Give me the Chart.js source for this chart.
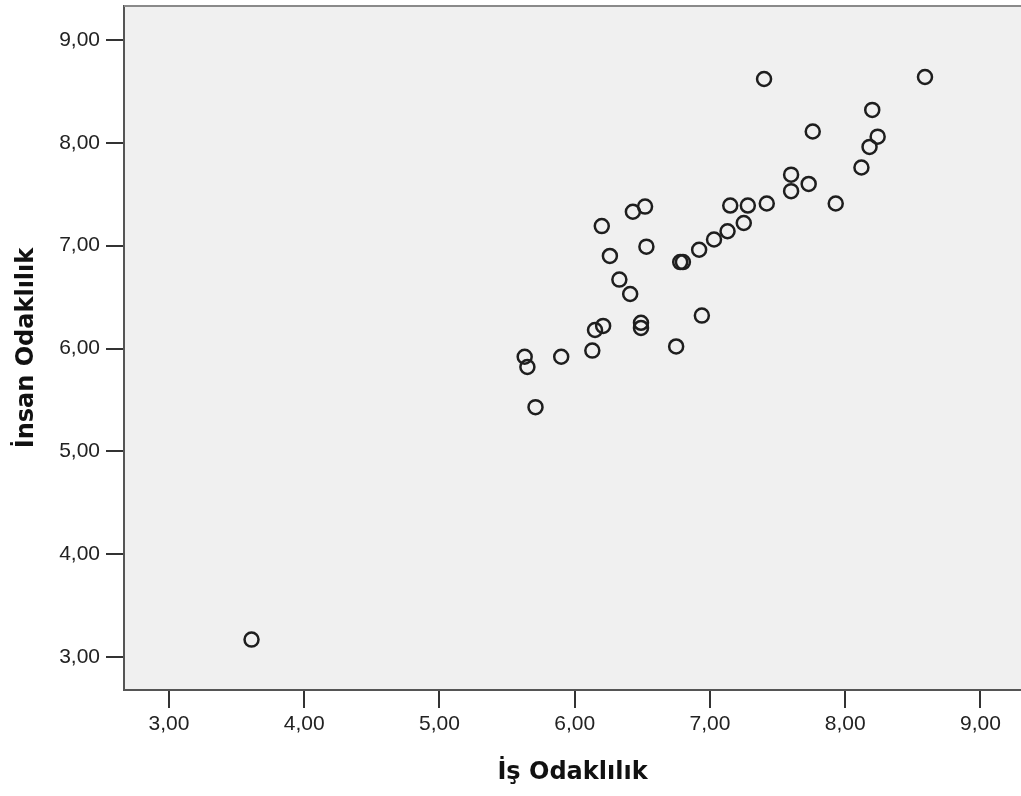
<!DOCTYPE html>
<html>
<head>
<meta charset="utf-8">
<script src="https://cdn.jsdelivr.net/npm/chart.js@4"></script>
<style>
  body { margin: 0; background: #ffffff; }
  canvas { display: block; }
</style>
</head>
<body>
<canvas id="myChart" width="1021" height="796"></canvas>
<script>
// values
var isOdak = [3.61, 5.63, 5.65, 5.71, 5.90, 6.13, 6.15, 6.21, 6.20, 6.26, 6.33, 6.41, 6.43, 6.52, 6.53,
    6.49, 6.49, 6.75, 6.78, 6.80, 6.92, 6.94, 7.03, 7.13, 7.15, 7.25, 7.28, 7.40, 7.42, 7.60,
    7.60, 7.73, 7.76, 7.93, 8.12, 8.18, 8.20, 8.24, 8.59];
var insanOdak = [3.17, 5.92, 5.82, 5.43, 5.92, 5.98, 6.18, 6.22, 7.19, 6.90, 6.67, 6.53, 7.33, 7.38, 6.99,
    6.25, 6.20, 6.02, 6.84, 6.84, 6.96, 6.32, 7.06, 7.14, 7.39, 7.22, 7.39, 8.62, 7.41, 7.69,
    7.53, 7.60, 8.11, 7.41, 7.76, 7.96, 8.32, 8.06, 8.64];
var xTicks = [3, 4, 5, 6, 7, 8, 9];
var yTicks = [3, 4, 5, 6, 7, 8, 9];
var xTitle = 'İş Odaklılık';
var yTitle = 'İnsan Odaklılık';

function fmt(v) {
    return v.toFixed(2).replace('.', ',');
}

var points = isOdak.map(function (x, i) {
    return { x: x, y: insanOdak[i] };
});

var plotBg = {
    id: 'plotBg',
    beforeDraw: function (chart) {
        var a = chart.chartArea;
        var ctx = chart.ctx;
        ctx.save();
        ctx.fillStyle = '#f0f0f0';
        ctx.fillRect(a.left, a.top, a.right - a.left, a.bottom - a.top);
        ctx.restore();
    },
    afterDraw: function (chart) {
        var a = chart.chartArea;
        var ctx = chart.ctx;
        ctx.save();
        ctx.strokeStyle = '#8a8a8a';
        ctx.lineWidth = 2;
        ctx.beginPath();
        ctx.moveTo(a.left, a.top);
        ctx.lineTo(a.right, a.top);
        ctx.stroke();
        ctx.restore();
    }
};

var ctx = document.getElementById('myChart').getContext('2d');
var myChart = new Chart(ctx, {
    type: 'scatter',
    data: {
        datasets: [{
            data: points,
            backgroundColor: 'rgba(0,0,0,0)',
            borderColor: '#1e1e1e',
            borderWidth: 2.5,
            pointRadius: 7,
            pointHoverRadius: 7
        }]
    },
    options: {
        responsive: false,
        animation: false,
        layout: { autoPadding: false, padding: { top: 6, right: 0, left: 0, bottom: 0 } },
        plugins: {
            legend: { display: false },
            tooltip: { enabled: false }
        },
        scales: {
            x: {
                type: 'linear',
                min: 2.667,
                max: 9.30,
                afterBuildTicks: function (scale) {
                    scale.ticks = xTicks.map(function (v) { return { value: v }; });
                },
                afterFit: function (scale) {
                    scale.height = 106;
                    scale.paddingLeft = 0;
                    scale.paddingRight = 0;
                },
                grid: { drawOnChartArea: false, drawTicks: true, tickLength: 18, color: '#333333', lineWidth: 2 },
                border: { display: true, color: '#555555', width: 2 },
                ticks: {
                    padding: 4,
                    color: '#222222',
                    font: { family: 'Liberation Sans', size: 21 },
                    maxRotation: 0,
                    autoSkip: false,
                    callback: function (v) { return fmt(v); }
                },
                title: {
                    display: true,
                    text: xTitle,
                    color: '#111111',
                    font: { family: 'DejaVu Sans', size: 24, weight: 'bold' },
                    padding: { top: 0, bottom: 9 }
                }
            },
            y: {
                type: 'linear',
                min: 2.68,
                max: 9.33,
                afterBuildTicks: function (scale) {
                    scale.ticks = yTicks.map(function (v) { return { value: v }; });
                },
                afterFit: function (scale) {
                    scale.width = 124;
                    scale.paddingTop = 0;
                    scale.paddingBottom = 0;
                },
                grid: { drawOnChartArea: false, drawTicks: true, tickLength: 18, color: '#333333', lineWidth: 2 },
                border: { display: true, color: '#555555', width: 2 },
                ticks: {
                    padding: 6,
                    color: '#222222',
                    font: { family: 'Liberation Sans', size: 21 },
                    autoSkip: false,
                    callback: function (v) { return fmt(v); }
                },
                title: {
                    display: true,
                    text: yTitle,
                    color: '#111111',
                    font: { family: 'DejaVu Sans', size: 24, weight: 'bold' },
                    padding: { top: 12, bottom: 0 }
                }
            }
        }
    },
    plugins: [plotBg]
});
</script>
</body>
</html>
